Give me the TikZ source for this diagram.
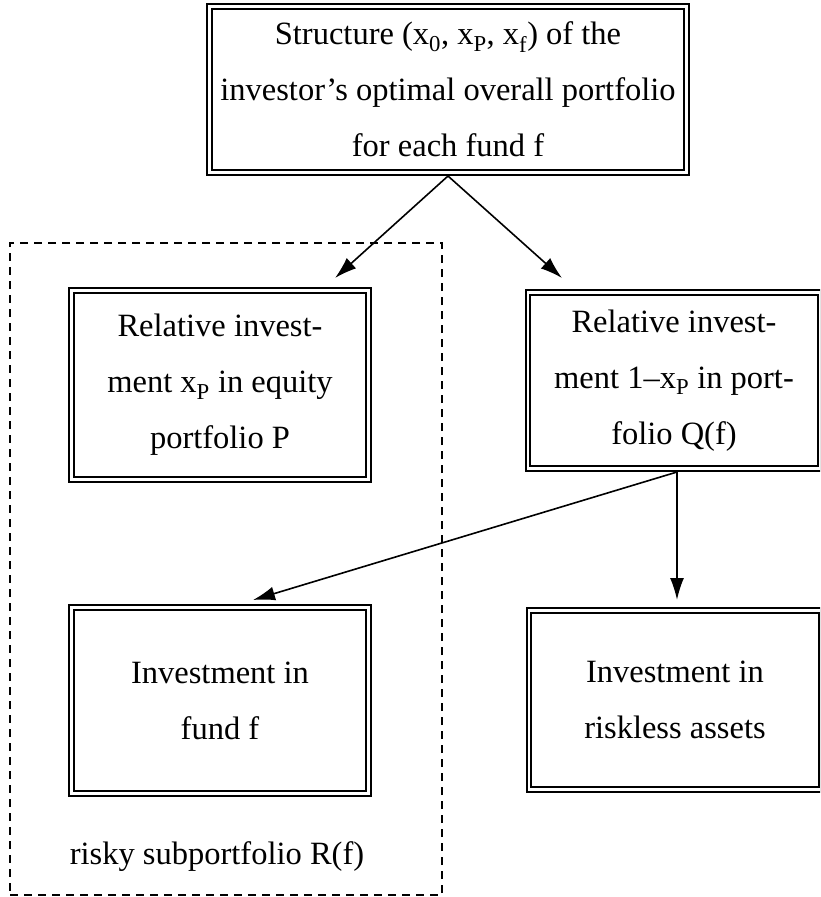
\documentclass[tikz,border=0pt]{standalone}
\usepackage{fontspec}
\setmainfont{Liberation Serif}
\usetikzlibrary{arrows.meta}
\begin{document}
\begin{tikzpicture}[x=1pt,y=-1pt,
  box/.style={draw, line width=2.3pt, double, double distance=2.2pt, align=center, inner sep=0pt,
    font=\fontsize{32.5}{56}\selectfont},
  lbl/.style={font=\fontsize{32.5}{56}\selectfont, inner sep=0pt},
  arr/.style={line width=1.6pt, -{Latex[length=22pt,width=14pt]}},
  group/.style={draw, line width=1.6pt, dash pattern=on 8pt off 6pt}]
\useasboundingbox (0,0) rectangle (820,897);
\clip (0,0) rectangle (820,897);
\fill[white] (0,0) rectangle (820,897);

\node[box, minimum width=477pt, minimum height=166pt] (top) at (448,89.5)
  {Structure (x\textsubscript{0}, x\textsubscript{P}, x\textsubscript{f}) of the\\
   investor’s optimal overall portfolio\\ for each fund f};

\node[group, minimum width=432pt, minimum height=652pt, inner sep=0pt] (risky) at (226,569) {};

\node[box, minimum width=297pt, minimum height=189pt] (lm) at (220,385)
  {Relative invest-\\ ment x\textsubscript{P} in equity\\ portfolio P};
\node[box, minimum width=292pt, minimum height=176pt] (rm) at (674,380.5)
  {Relative invest-\\ ment 1–x\textsubscript{P} in port-\\ folio Q(f)};
\node[box, minimum width=297pt, minimum height=186pt] (lb) at (220,700.5)
  {Investment in\\ fund f};
\node[box, minimum width=292pt, minimum height=179pt] (rb) at (675,700)
  {Investment in\\ riskless assets};
\node[lbl] (rl) at (217,857) {risky subportfolio R(f)};

\coordinate (ta) at (448,176);
\coordinate (t1) at (335,278);
\coordinate (t2) at (562,278);
\coordinate (qa) at (677,472);
\coordinate (t3) at (677,600);
\coordinate (t4) at (253,600);

\draw[arr] (ta) -- (t1);
\draw[arr] (ta) -- (t2);
\draw[arr] (qa) -- (t3);
\draw[arr] (qa) -- (t4);
\end{tikzpicture}
\end{document}
